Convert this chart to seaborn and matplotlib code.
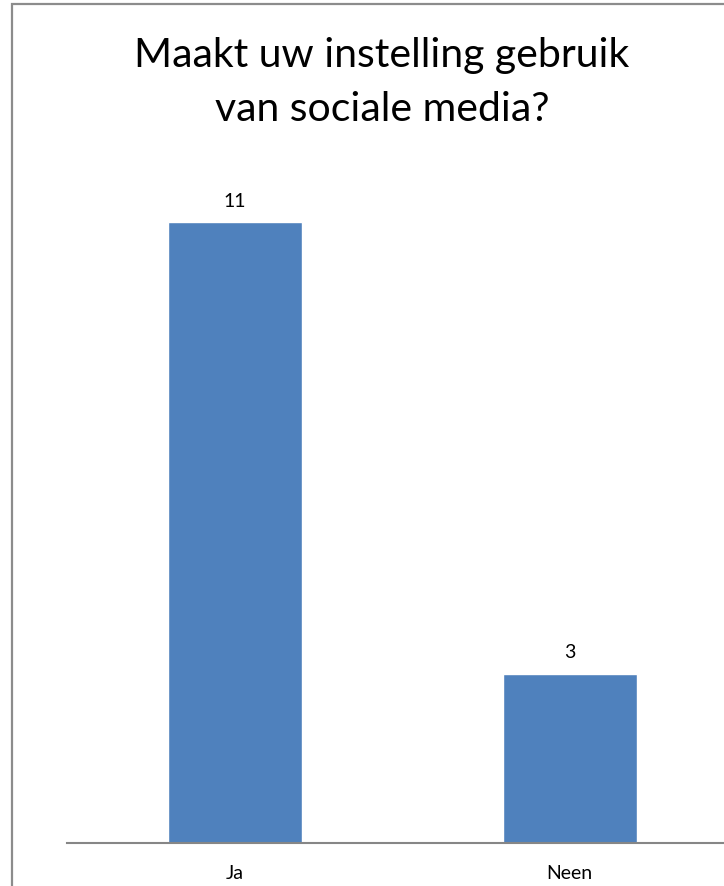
import matplotlib
matplotlib.use("Agg")
import matplotlib.pyplot as plt
from matplotlib.patches import Rectangle
import seaborn as sns
import pandas as pd

categories = ["Ja", "Neen"]
counts = [11, 3]
title_lines = ["Maakt uw instelling gebruik", "van sociale media?"]

sns.set_theme(style="white")
plt.rcParams["font.family"] = ["Lato", "DejaVu Sans"]

W, H = 724, 886
fig = plt.figure(figsize=(W / 100, H / 100), dpi=100)
fig.patch.set_facecolor("white")

# plot area in pixel units, extends past the right edge
left_px, right_px = 67, 737
base_px, top_px = 843, 166
ax = fig.add_axes([left_px / W, (H - base_px) / H,
                   (right_px - left_px) / W, (base_px - top_px) / H])

df = pd.DataFrame({"cat": categories, "n": counts})
sns.barplot(data=df, x="cat", y="n", color="#4F81BD", saturation=1,
            width=0.4, ax=ax)

ax.set_xlim(-0.5, 1.5)
ax.set_ylim(0, 12)
ax.set_xlabel("")
ax.set_ylabel("")
ax.set_yticks([])
for s in ["top", "right", "left"]:
    ax.spines[s].set_visible(False)
ax.spines["bottom"].set_color("#868686")
ax.spines["bottom"].set_linewidth(1.5)
ax.tick_params(axis="x", length=0, pad=16, labelsize=14, colors="black")

for i, v in enumerate(counts):
    ax.annotate(str(v), (i, v), xytext=(0, 9), textcoords="offset points",
                ha="center", va="bottom", fontsize=14, color="black")

fig.text(382 / W, 1 - 67 / H, title_lines[0], ha="center", va="baseline",
         fontsize=29.5, color="black")
fig.text(382 / W, 1 - 121 / H, title_lines[1], ha="center", va="baseline",
         fontsize=29.5, color="black")

# chart border (left and top edges visible)
fig.patches.append(Rectangle((12 / W, -0.1), 1.2, (H - 4.5) / H + 0.1,
                             transform=fig.transFigure, fill=False,
                             edgecolor="#8C8C8C", linewidth=1.6))

fig.savefig("out.png", dpi=100)
